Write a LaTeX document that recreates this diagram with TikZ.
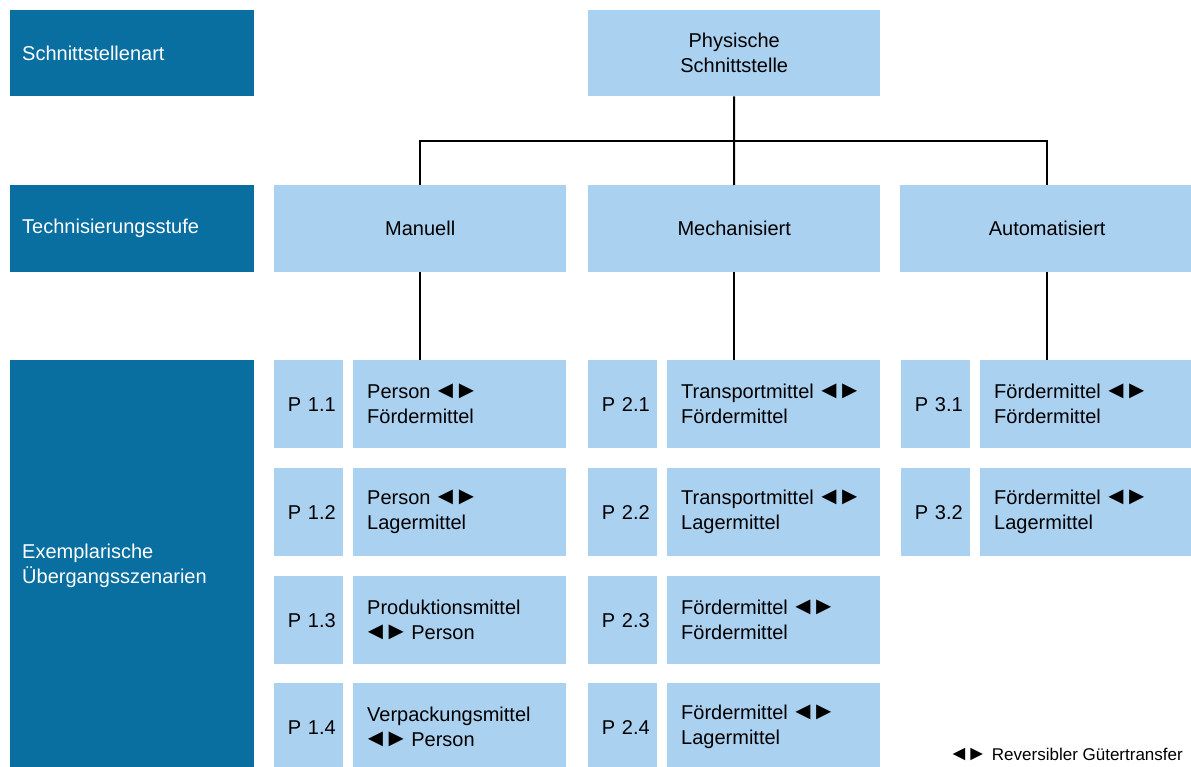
\documentclass[tikz,border=0pt]{standalone}
\usepackage{fontspec}
\setmainfont{Liberation Sans}
\newcommand{\lrarrows}{{\fontsize{25}{25}\selectfont\hspace*{-4pt}◄\kern-4pt►\hspace*{-4pt}}}
\definecolor{darkblue}{RGB}{9,110,160}
\definecolor{lightblue}{RGB}{171,209,240}
\tikzset{
  boxtext/.style={font=\fontsize{20}{25}\selectfont},
  levelbox/.style={boxtext, fill=darkblue, text=white, inner xsep=12pt, inner ysep=0pt,
    text width=220pt, align=left, minimum height=#1, anchor=north west},
  headbox/.style={boxtext, fill=lightblue, inner sep=0pt, minimum width=292pt,
    minimum height=87pt, align=center, anchor=north west},
  idbox/.style={boxtext, fill=lightblue, inner xsep=7.5pt, inner ysep=0pt, text width=54pt,
    align=right, minimum height=88pt, anchor=north west},
  descbox/.style={boxtext, fill=lightblue, inner xsep=14pt, inner ysep=0pt, text width=#1,
    align=left, minimum height=88pt, anchor=north west},
  descbox/.default=185pt,
  link/.style={draw=black, line width=2pt},
}
\begin{document}
\begin{tikzpicture}[x=1pt, y=-1pt]
\useasboundingbox[fill=white] (0,0) rectangle (1191,767);

% row labels on the left
\node[levelbox=86pt] (artlbl) at (10,10) {Schnittstellenart};
\node[levelbox=87pt] (stufelbl) at (10,185) {Technisierungsstufe};
\node[levelbox=411pt] (szenlbl) at (10,360) {Exemplarische\\Übergangsszenarien};

% interface type
\node[headbox, minimum height=86pt] (phys) at (588,10) {Physische\\Schnittstelle};

% levels of mechanisation
\node[headbox] (man) at (274,185) {Manuell};
\node[headbox] (mech) at (588,185) {Mechanisiert};
\node[headbox, minimum width=294pt] (auto) at (900,185) {Automatisiert};

% tree connectors
\coordinate (bus) at (734,141);
\draw[link] (phys.south) -- (bus);
\draw[link] (man.north) |- (bus) -| (auto.north);
\draw[link] (bus) -- (mech.north);

% scenarios: manual
\node[idbox] (p11) at (274,360) {P 1.1};
\node[descbox] (p11t) at (353,360) {Person \lrarrows\\Fördermittel};
\node[idbox] (p12) at (274,468) {P 1.2};
\node[descbox] (p12t) at (353,468) {Person \lrarrows\\Lagermittel};
\node[idbox] (p13) at (274,576) {P 1.3};
\node[descbox] (p13t) at (353,576) {Produktionsmittel\\\lrarrows\ Person};
\node[idbox] (p14) at (274,683) {P 1.4};
\node[descbox] (p14t) at (353,683) {Verpackungsmittel\\\lrarrows\ Person};

% scenarios: mechanised
\node[idbox] (p21) at (588,360) {P 2.1};
\node[descbox] (p21t) at (667,360) {Transportmittel \lrarrows\\Fördermittel};
\node[idbox] (p22) at (588,468) {P 2.2};
\node[descbox] (p22t) at (667,468) {Transportmittel \lrarrows\\Lagermittel};
\node[idbox] (p23) at (588,576) {P 2.3};
\node[descbox] (p23t) at (667,576) {Fördermittel \lrarrows\\Fördermittel};
\node[idbox] (p24) at (588,683) {P 2.4};
\node[descbox] (p24t) at (667,683) {Fördermittel \lrarrows\\Lagermittel};

% scenarios: automated
\node[idbox] (p31) at (901,360) {P 3.1};
\node[descbox=184pt] (p31t) at (980,360) {Fördermittel \lrarrows\\Fördermittel};
\node[idbox] (p32) at (901,468) {P 3.2};
\node[descbox=184pt] (p32t) at (980,468) {Fördermittel \lrarrows\\Lagermittel};

% links from levels to scenarios
\draw[link] (man.south) -- (man.south |- p11t.north);
\draw[link] (mech.south) -- (mech.south |- p21t.north);
\draw[link] (auto.south) -- (auto.south |- p31t.north);

% legend
\node[anchor=east, inner sep=0pt, font=\fontsize{17}{20}\selectfont] (legend) at (1183,754)
  {{\fontsize{21}{20}\selectfont ◄\kern-3pt►} Reversibler Gütertransfer};
\end{tikzpicture}
\end{document}
